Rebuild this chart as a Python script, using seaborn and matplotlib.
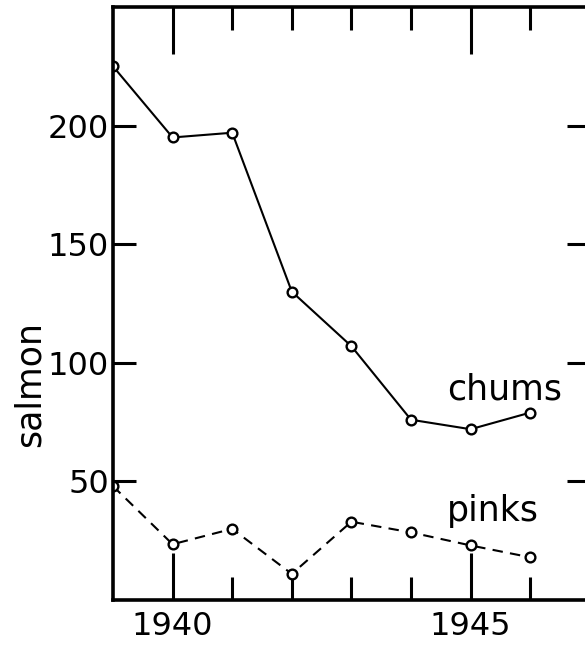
import matplotlib
matplotlib.use("Agg")
import matplotlib.pyplot as plt
import seaborn as sns
import pandas as pd
from matplotlib.ticker import FixedLocator, NullFormatter

# ---- data ----
years = [1939, 1940, 1941, 1942, 1943, 1944, 1945, 1946]
chums = [225, 195, 197, 130, 107, 76, 72, 79]
pinks = [48, 23.5, 30, 11, 33, 28.5, 23, 18]
y_ticks = [50, 100, 150, 200]
x_major = [1940, 1945]
x_minor = [1941, 1942, 1943, 1944, 1946]
ylabel = "salmon"

df = pd.DataFrame({"year": years, "chums": chums, "pinks": pinks})

sns.set_theme(style="ticks")
plt.rcParams["font.family"] = ["DejaVu Sans"]
plt.rcParams["text.color"] = "black"
plt.rcParams["xtick.labelcolor"] = "black"
plt.rcParams["ytick.labelcolor"] = "black"

fig = plt.figure(figsize=(5.85, 6.47), dpi=100)
ax = fig.add_axes([113 / 585, 47 / 647, 476.8 / 585, 593 / 647])
ax.set_facecolor("white")

common = dict(color="black", marker="o", markersize=7,
              markerfacecolor="white", markeredgecolor="black",
              markeredgewidth=1.7, linewidth=1.5)
sns.lineplot(data=df, x="year", y="chums", ax=ax, **common)
sns.lineplot(data=df, x="year", y="pinks", ax=ax, dashes=False, **common)
ax.lines[-1].set_dashes([5, 3.5])

ax.set_xlim(1939, 1947)
ax.set_ylim(0, 250)

for s in ax.spines.values():
    s.set_linewidth(2.6)
    s.set_color("black")
    s.set_visible(True)

ax.xaxis.set_major_locator(FixedLocator(x_major))
ax.xaxis.set_minor_locator(FixedLocator(x_minor))
ax.xaxis.set_minor_formatter(NullFormatter())
ax.set_xticklabels([str(v) for v in x_major])
ax.yaxis.set_major_locator(FixedLocator(y_ticks))
ax.set_yticklabels([str(v) for v in y_ticks])

ax.tick_params(axis="x", which="major", direction="in", length=34, width=2.2,
               top=True, bottom=True, labelsize=23, pad=8, color="black",
               labelcolor="black")
ax.tick_params(axis="x", which="minor", direction="in", length=16.5, width=2.2,
               top=True, bottom=True, color="black")
ax.tick_params(axis="y", which="major", direction="in", length=16.5, width=2.2,
               left=True, right=True, labelsize=23, pad=3, color="black",
               labelcolor="black")

ax.set_xlabel("")
ax.set_ylabel("")
fig.text(30 / 585, 1 - 384 / 647, ylabel, rotation=90, fontsize=25,
         ha="center", va="center", color="black")

ax.text(1944.6, 84.5, "chums", fontsize=25, ha="left", va="baseline",
        color="black")
ax.text(1944.6, 33.5, "pinks", fontsize=25, ha="left", va="baseline",
        color="black")

fig.savefig("out.png", dpi=100, facecolor="white")
